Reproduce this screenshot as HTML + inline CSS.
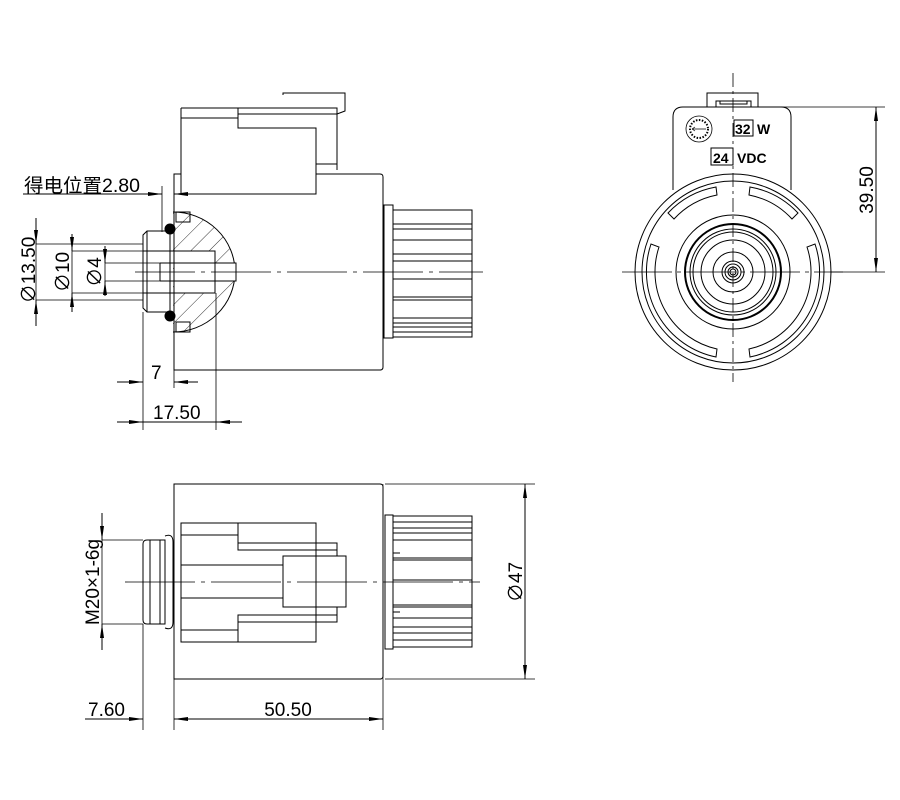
<!DOCTYPE html>
<html><head><meta charset="utf-8"><style>body{margin:0;background:#fff}svg{display:block}text{font-family:"Liberation Sans","Noto Sans CJK SC",sans-serif;fill:#000}</style></head><body>
<svg width="900" height="800" viewBox="0 0 900 800" xmlns="http://www.w3.org/2000/svg">
<defs>
<marker id="a" viewBox="0 0 14 4" refX="14" refY="2" markerWidth="14" markerHeight="4" orient="auto-start-reverse" markerUnits="userSpaceOnUse"><path d="M0,0L14,2L0,4z" fill="#000"/></marker>
<pattern id="h" width="13" height="13" patternUnits="userSpaceOnUse" patternTransform="rotate(45)"><line x1="0" y1="0" x2="0" y2="13" stroke="#000" stroke-width="0.8"/></pattern>
<clipPath id="sec"><path d="M173,212 A62,60 0 0 1 173,332 Z"/></clipPath>
</defs>
<g fill="none" stroke="#000" stroke-width="1">
<path d="M283,95 V93 H345 V111 L337,114"/>
<path d="M181,108 H337 V170 M181,118 H238 M238,114 H337 M238,108 V128 H316 V194 H181 V108 M316,164 H337 M316,174 H380 Q383,174 383,177 V367 Q383,370 380,370 H174 V174 H181"/>
<rect x="384" y="205" width="9" height="133"/>
<rect x="393" y="210" width="79" height="127"/>
<path d="M393,224H472M393,229H472M393,240H472M393,254H472M393,261H472M393,279H472M393,297H472M393,300H472M393,318H472M393,323H472M393,327H472M393,332H472"/>
<rect x="173" y="205" width="64" height="135" fill="url(#h)" stroke="none" clip-path="url(#sec)"/>
<path d="M173,212 A62,60 0 0 1 173,332"/>
<rect x="174" y="251" width="41" height="42" fill="#fff"/>
<rect x="174" y="263" width="62" height="18" fill="#fff"/>
<path d="M143,251H215V263H236M143,293H215V281H236M160,263H236M160,281H236M215,251V293"/>
<path d="M147,231 H170 V312 H147 L143,308 V235 Z M147,231V312 M160,263V281"/>
<rect x="176" y="212" width="14" height="10"/><rect x="176" y="322" width="14" height="10"/>
<circle cx="170" cy="229" r="5" fill="#000"/><circle cx="170" cy="316" r="5" fill="#000"/>
<line x1="135" y1="272" x2="483" y2="272" stroke-dasharray="60,6,4,6" stroke-width="0.8"/>
<path d="M162,186V232M36,218V326M36,244H143M36,300H143M72,238V310M72,251H143M72,293H143M105,252V292M105,263H160M105,281H160" stroke-width="0.8"/>
<line x1="23" y1="194" x2="162" y2="194" marker-end="url(#a)"/><line x1="174" y1="194" x2="200" y2="194" marker-start="url(#a)"/>
<line x1="36" y1="218" x2="36" y2="244" marker-end="url(#a)"/><line x1="36" y1="300" x2="36" y2="326" marker-start="url(#a)"/>
<line x1="72" y1="234" x2="72" y2="251" marker-end="url(#a)"/><line x1="72" y1="293" x2="72" y2="312" marker-start="url(#a)"/>
<line x1="105" y1="246" x2="105" y2="263" marker-end="url(#a)"/><line x1="105" y1="281" x2="105" y2="296" marker-start="url(#a)"/>
<path d="M143,312V430M174,370V388M216,293V430" stroke-width="0.8"/>
<line x1="117" y1="382" x2="143" y2="382" marker-end="url(#a)"/><line x1="174" y1="382" x2="198" y2="382" marker-start="url(#a)"/>
<line x1="117" y1="422" x2="143" y2="422" marker-end="url(#a)"/><line x1="216" y1="422" x2="242" y2="422" marker-start="url(#a)"/>
<line x1="143" y1="422" x2="216" y2="422"/>
<path d="M707,107V93H758V107M716,107V101H751V107M720,101V104H747V101"/>
<path d="M673,190 V117 Q673,107 683,107 H781 Q791,107 791,117 V190"/>
<circle cx="699" cy="129" r="13" stroke-width="0.8"/>
<circle cx="699" cy="129" r="9" stroke-width="2" stroke-dasharray="1.5,1.5"/>
<path d="M692,129H706M692,129l3,-2M692,129l3,2" stroke-width="0.7"/>
<rect x="734" y="120" width="19" height="16"/><rect x="711" y="148" width="22" height="17"/>
<circle cx="733" cy="272" r="98"/><circle cx="733" cy="272" r="91"/>
<circle cx="733" cy="272" r="57"/><circle cx="733" cy="272" r="48" stroke-width="2"/>
<circle cx="733" cy="272" r="43"/><circle cx="733" cy="272" r="40"/><circle cx="733" cy="272" r="32"/><circle cx="733" cy="272" r="20"/>
<circle cx="733" cy="272" r="11"/><circle cx="733" cy="272" r="8"/><circle cx="733" cy="272" r="5"/><circle cx="733" cy="272" r="3"/>
<path d="M716,187 A87,87 0 0 0 668,213 L674,219 A79,79 0 0 1 717,195 Z"/>
<path d="M750,187 A87,87 0 0 1 798,213 L792,219 A79,79 0 0 0 749,195 Z"/>
<path d="M651,244 A87,87 0 0 0 716,357 L717,349 A79,79 0 0 1 659,247 Z"/>
<path d="M815,244 A87,87 0 0 1 750,357 L749,349 A79,79 0 0 0 807,247 Z"/>
<line x1="733" y1="73" x2="733" y2="382" stroke-dasharray="14,4,3,4" stroke-width="0.8"/>
<line x1="622" y1="272" x2="843" y2="272" stroke-dasharray="50,5,4,5" stroke-width="0.8"/>
<path d="M765,107H885M830,272H885" stroke-width="0.8"/>
<line x1="876" y1="107" x2="876" y2="272" marker-start="url(#a)" marker-end="url(#a)"/>
<path d="M174,484H380Q383,484 383,487V676Q383,679 380,679H174Z"/>
<path d="M383,484V679" stroke-width="0.6"/>
<rect x="385" y="515" width="8" height="134"/>
<rect x="393" y="516" width="79" height="131"/>
<path d="M393,522H472M393,528H472M393,533H472M393,540H472M393,558H472M393,560H472M393,580H472M393,605H472M393,607H472M393,618H472M393,627H472M393,633H472M393,640H472M393,553H400M393,612H400" />
<rect x="181" y="523" width="135" height="119"/>
<path d="M181,535H238M238,523V550H337V543H316M238,543H316M337,550V556M181,565H283M181,598H283M181,630H238M238,642V615H337V622H316M238,622H316M337,615V607"/>
<rect x="283" y="556" width="63" height="51"/>
<path d="M147,540H165V624H147Q143,624 143,620V544Q143,540 147,540ZM150,540V624M160,540V624"/>
<path d="M165,536Q173,533 173,542V622Q173,631 165,628"/>
<line x1="125" y1="582" x2="480" y2="582" stroke-dasharray="70,6,4,6" stroke-width="0.8"/>
<path d="M102,540H143M102,624H143M385,484H535M385,679H535M143,624V730M174,679V730M383,679V730" stroke-width="0.8"/>
<line x1="102" y1="513" x2="102" y2="540" marker-end="url(#a)"/><line x1="102" y1="624" x2="102" y2="650" marker-start="url(#a)"/>
<line x1="102" y1="540" x2="102" y2="624" stroke-width="0.8"/>
<line x1="525" y1="484" x2="525" y2="679" marker-start="url(#a)" marker-end="url(#a)"/>
<line x1="85" y1="719" x2="143" y2="719" marker-end="url(#a)"/>
<line x1="174" y1="719" x2="383" y2="719" marker-start="url(#a)" marker-end="url(#a)"/>
</g>
<g font-size="19">
<text x="24" y="192" textLength="116" lengthAdjust="spacingAndGlyphs">得电位置2.80</text>
<text x="151" y="379">7</text>
<text x="153" y="419">17.50</text>
<text transform="translate(35,270) rotate(-90)" text-anchor="middle">∅13.50</text>
<text transform="translate(69,272) rotate(-90)" text-anchor="middle">∅10</text>
<text transform="translate(101,272) rotate(-90)" text-anchor="middle">∅4</text>
<text transform="translate(873,190) rotate(-90)" text-anchor="middle">39.50</text>
<text transform="translate(99,582) rotate(-90)" text-anchor="middle">M20×1-6g</text>
<text transform="translate(522,582) rotate(-90)" text-anchor="middle">∅47</text>
<text x="88" y="716">7.60</text>
<text x="288" y="716" text-anchor="middle">50.50</text>
</g>
<g font-size="14" font-weight="bold">
<text x="735" y="134">32</text><text x="757" y="134">W</text>
<text x="713" y="163">24</text><text x="737" y="163">VDC</text>
</g>
</svg>
</body></html>
